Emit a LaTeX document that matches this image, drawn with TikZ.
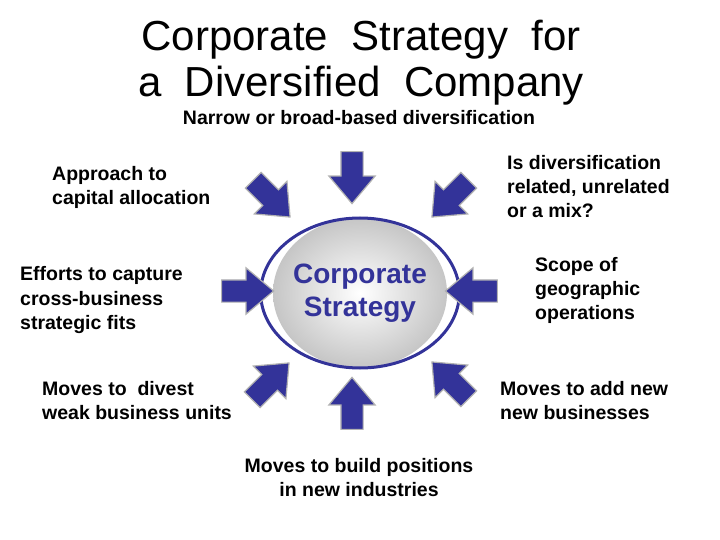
\documentclass[tikz,border=0pt]{standalone}
\usepackage{fontspec}
\setmainfont{Liberation Sans}
\usetikzlibrary{shapes.arrows,shapes.geometric}
\definecolor{ablue}{HTML}{333399}
\tikzset{
 arr/.style={single arrow, fill=ablue, draw=gray!60, line width=1.2pt, minimum height=52pt, single arrow head extend=12pt, single arrow tip angle=80, inner sep=0pt},
 lbl/.style={font=\bfseries\fontsize{19.5}{24}\selectfont, align=left, inner sep=0pt},
}
\newcommand{\shaft}{\rule{0pt}{21pt}}
\begin{document}
\begin{tikzpicture}[x=1pt,y=-1pt]
\useasboundingbox (0,0) rectangle (720,540);
\node[font=\fontsize{42}{46}\selectfont, align=center] (title) at (361,63) {Corporate\ \ Strategy\ \ for\\a\ \ Diversified\ \ Company};
\node[lbl] (sub) at (359,118) {Narrow or broad-based diversification};
\shade[inner color=white, outer color=gray!45] (360,293) ellipse (87 and 75);
\node[draw=ablue, line width=3pt, ellipse, minimum width=174pt, minimum height=150pt, font=\bfseries\fontsize{28}{33}\selectfont, text=ablue, align=center] (cs) at (360,293) {Corporate\\Strategy};
\node[arr, rotate=-90] (a1) at (352,171) {\shaft};
\node[arr, rotate=-45] (a2) at (267,194) {\shaft};
\node[arr, rotate=225] (a3) at (455,194) {\shaft};
\node[arr] (a4) at (241,291) {\shaft};
\node[arr, rotate=180] (a5) at (478,291) {\shaft};
\node[arr, rotate=45] (a6) at (266,386) {\shaft};
\node[arr, rotate=135] (a7) at (455,385) {\shaft};
\node[arr, rotate=90] (a8) at (352,410) {\shaft};
\node[lbl, anchor=west] (l1) at (52,187) {Approach to\\capital allocation};
\node[lbl, anchor=west] (l2) at (507,187) {Is diversification\\related, unrelated\\or a mix?};
\node[lbl, anchor=west] (l3) at (20,300) {Efforts to capture\\cross-business\\strategic fits};
\node[lbl, anchor=west] (l4) at (535,290) {Scope of\\geographic\\operations};
\node[lbl, anchor=west] (l5) at (42,401) {Moves to\ \ divest\\weak business units};
\node[lbl, anchor=west] (l6) at (500,401) {Moves to add new\\new businesses};
\node[lbl, align=center] (l7) at (359,478) {Moves to build positions\\in new industries};
\end{tikzpicture}
\end{document}
